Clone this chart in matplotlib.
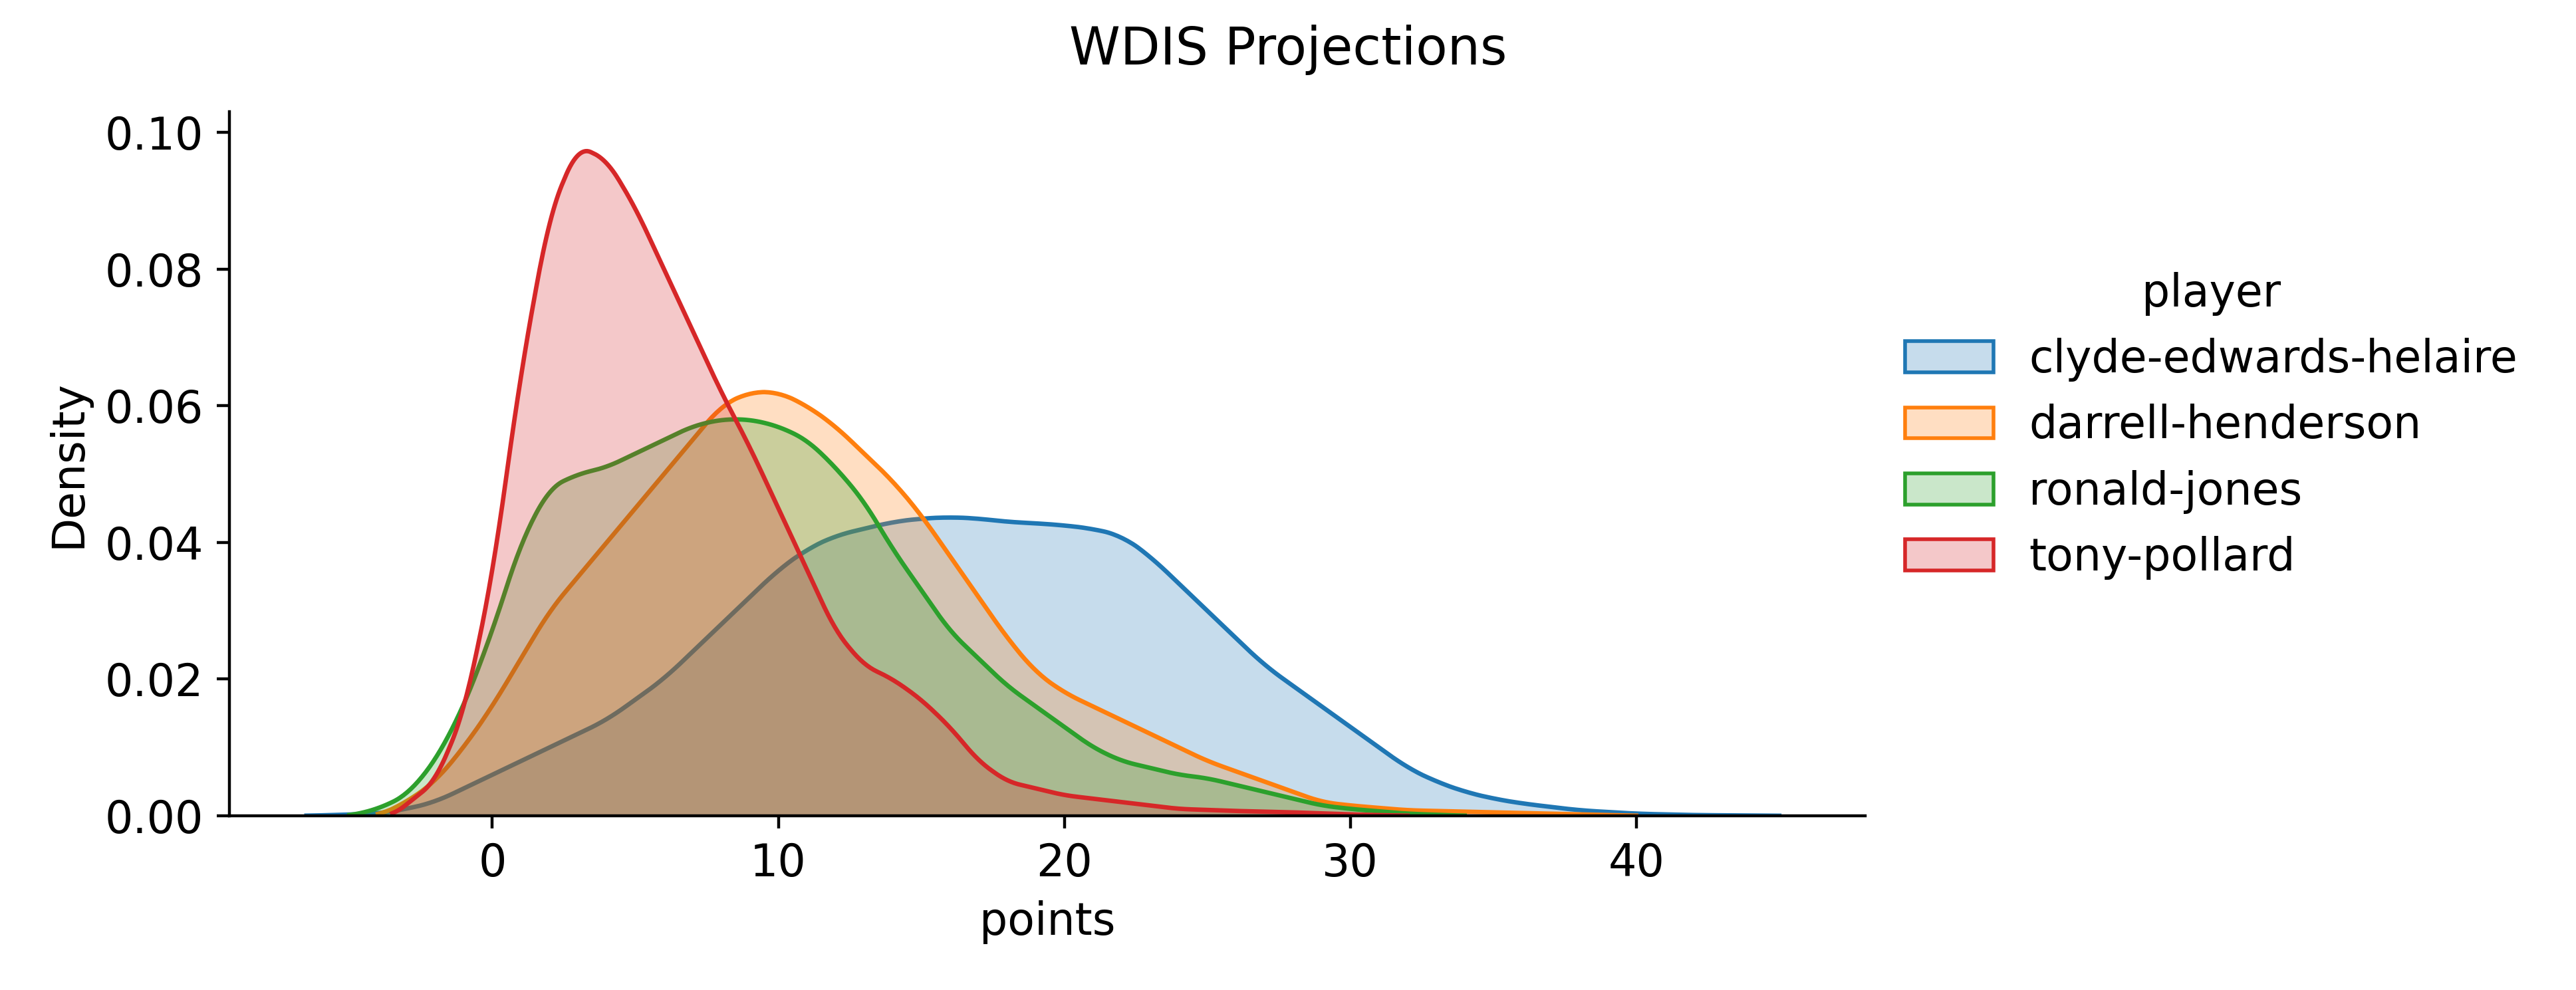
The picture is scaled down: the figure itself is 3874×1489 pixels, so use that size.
import matplotlib
matplotlib.use("Agg")
import matplotlib.pyplot as plt
import matplotlib.colors as mc
from matplotlib.patches import Patch
import numpy as np

players = ["clyde-edwards-helaire", "darrell-henderson", "ronald-jones", "tony-pollard"]
colors = ["#1f77b4", "#ff7f0e", "#2ca02c", "#d62728"]

blue_x = [-6.5,-4,-3,-2,-1,0,1,2,3,4,5,6,7,8,9,10,11,12,13,14,15,16,17,18,19,20,21,22,23,24,25,26,27,28,29,30,31,32,33,34,35,36,38,40,42,45]
blue_y = [0,0.0003,0.001,0.002,0.004,0.006,0.008,0.010,0.012,0.014,0.017,0.020,0.024,0.028,0.032,0.036,0.039,0.041,0.042,0.043,0.0435,0.0437,0.0435,0.043,0.0428,0.0425,0.042,0.041,0.038,0.034,0.030,0.026,0.022,0.019,0.016,0.013,0.010,0.007,0.005,0.0035,0.0025,0.0018,0.0008,0.0003,0.0001,0]
orange_x = [-4,-3,-2,-1,0,1,2,3,4,5,6,7,8,9,10,11,12,13,14,15,16,17,18,19,20,21,22,23,24,25,26,27,28,29,30,32,35,38,40]
orange_y = [0,0.002,0.005,0.010,0.016,0.023,0.030,0.035,0.040,0.045,0.050,0.055,0.060,0.062,0.062,0.060,0.057,0.053,0.049,0.044,0.038,0.032,0.026,0.021,0.018,0.016,0.014,0.012,0.010,0.008,0.0065,0.005,0.0035,0.002,0.0015,0.0008,0.0005,0.0002,0]
green_x = [-5,-4,-3,-2,-1,0,1,2,3,4,5,6,7,8,9,10,11,12,13,14,15,16,17,18,19,20,21,22,23,24,25,26,27,28,29,30,32,34]
green_y = [0,0.001,0.003,0.008,0.016,0.027,0.040,0.048,0.050,0.051,0.053,0.055,0.057,0.058,0.058,0.057,0.055,0.051,0.046,0.039,0.033,0.027,0.023,0.019,0.016,0.013,0.010,0.008,0.007,0.006,0.0055,0.0045,0.0035,0.0025,0.0015,0.001,0.0003,0]
red_x = [-3.5,-2,-1,0,1,2,3,4,5,6,7,8,9,10,11,12,13,14,15,16,17,18,19,20,22,24,26,28,30,32]
red_y = [0,0.005,0.015,0.035,0.065,0.088,0.098,0.096,0.089,0.080,0.071,0.062,0.054,0.045,0.036,0.027,0.022,0.020,0.017,0.013,0.008,0.005,0.004,0.003,0.002,0.001,0.0007,0.0005,0.0002,0]

series = [(blue_x, blue_y), (orange_x, orange_y), (green_x, green_y), (red_x, red_y)]

plt.rcParams["font.size"] = 12
fig = plt.figure(figsize=(9.685, 3.7225), dpi=400)
ax = fig.add_axes([0.089, 0.176, 0.635, 0.711])
for (x, y), c in zip(series, colors):
    x = np.asarray(x, float); y = np.asarray(y, float)
    xs = np.linspace(x.min(), x.max(), 600)
    ys = np.interp(xs, x, y)
    k = np.ones(15) / 15
    ys = np.convolve(np.pad(ys, 7, mode="edge"), k, mode="valid")
    ax.fill_between(xs, ys, 0, color=c, alpha=0.25, lw=0, zorder=1)
    ax.plot(xs, ys, color=c, lw=1.2, zorder=1)
ax.set_xlim(-9.2, 48)
ax.set_ylim(0, 0.103)
ax.set_xticks([0, 10, 20, 30, 40])
ax.set_yticks([0, 0.02, 0.04, 0.06, 0.08, 0.10])
ax.set_yticklabels(["0.00", "0.02", "0.04", "0.06", "0.08", "0.10"])
ax.spines["top"].set_visible(False)
ax.spines["right"].set_visible(False)
ax.set_xlabel("points")
ax.set_ylabel("Density")
fig.suptitle("WDIS Projections", y=0.975, fontsize=14)
handles = [Patch(facecolor=mc.to_rgba(c, 0.25), edgecolor=c) for c in colors]
fig.legend(handles, players, title="player", loc="center left",
           bbox_to_anchor=(0.724, 0.57), frameon=False, fontsize=12, title_fontsize=12)
fig.savefig("out.png", dpi=400)
